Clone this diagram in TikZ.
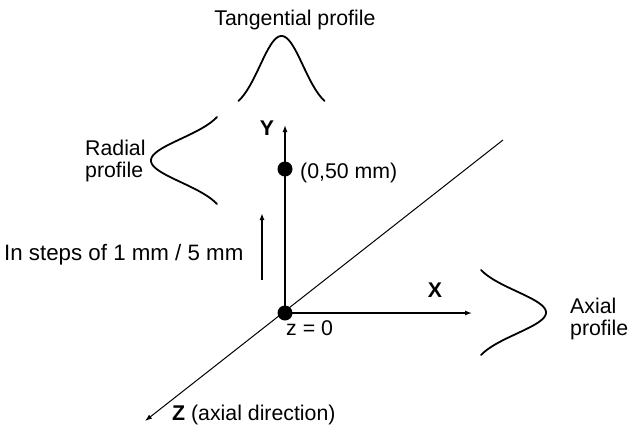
\documentclass[tikz,border=0pt]{standalone}
\usepackage{fontspec}
\setmainfont{Liberation Sans}
\usetikzlibrary{arrows.meta}
\begin{document}
\begin{tikzpicture}[x=1pt,y=-1pt,
  lbl/.style={inner sep=0pt,font=\fontsize{21.3}{23}\selectfont},
  axlbl/.style={inner sep=0pt,font=\fontsize{21.3}{23}\selectfont\bfseries},
  dotnode/.style={circle,fill=black,inner sep=0pt,minimum size=15pt},
  axis/.style={line width=1.3pt,-{Latex[length=7pt,width=5pt]}},
  profile/.style={line width=1.8pt,line cap=round},
  stepsarrow/.style={line width=1.8pt,-{Latex[length=7pt,width=5pt]}}]
\path[use as bounding box,fill=white] (0,0) rectangle (638,432);
% coordinates
\coordinate (ytip) at (285,125);
\coordinate (xtip) at (472,313);
\coordinate (dtop) at (503,140);
\coordinate (ztip) at (145,421);
\coordinate (sbot) at (262,280);
\coordinate (stop) at (262,213);
% axes
\draw[line width=1pt,-{Latex[length=7pt,width=5pt]}] (dtop) -- (ztip);
\draw[axis] (285,313) -- (ytip);
\draw[axis] (285,313) -- (xtip);
\node[dotnode] (O) at (285,313) {};
\node[dotnode] (P) at (285,169) {};
\draw[stepsarrow] (sbot) -- (stop);
% profiles
\draw[profile] plot[domain=-2:2,samples=80,smooth] ({281.5+21.5*\x},{111.1-75.1*exp(-\x*\x/2)});
\draw[profile] plot[domain=-2:2,samples=80,smooth] ({227.3-76.3*exp(-\x*\x/2)},{160.5+21.75*\x});
\draw[profile] plot[domain=-2:2,samples=80,smooth] ({470.9+75.1*exp(-\x*\x/2)},{312.5+21.25*\x});
% labels
\node[lbl,anchor=base] (tang) at (295,25) {Tangential profile};
\node[lbl,anchor=base west] (rad1) at (85,155) {Radial};
\node[lbl,anchor=base west] (rad2) at (85,177) {profile};
\node[lbl,anchor=base west] (ax1) at (570,313) {Axial};
\node[lbl,anchor=base west] (ax2) at (570,335) {profile};
\node[axlbl,anchor=base] (ylab) at (267,135) {Y};
\node[axlbl,anchor=base] (xlab) at (435,297) {X};
\node[lbl,anchor=base west] (plab) at (300,178) {(0,50 mm)};
\node[lbl,anchor=base west] (zlab) at (286,335) {z = 0};
\node[lbl,anchor=base west,font=\fontsize{22.3}{24}\selectfont] (steps) at (4,260) {In steps of 1 mm / 5 mm};
\node[lbl,anchor=base west] (zax) at (172,420) {\textbf{Z} (axial direction)};
\end{tikzpicture}
\end{document}
